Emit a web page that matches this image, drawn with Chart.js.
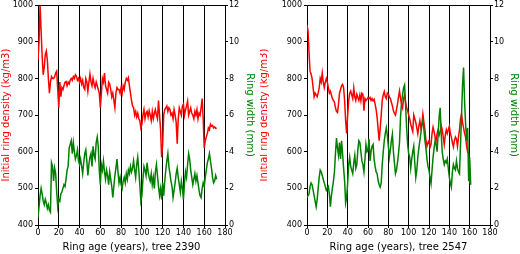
<!DOCTYPE html>
<html>
<head>
<meta charset="utf-8">
<script src="https://cdn.jsdelivr.net/npm/chart.js@4"></script>
<style>
body { margin: 0; background: #fff; }
#wrap { position: relative; width: 520px; height: 254px; }
canvas { position: absolute; top: 0; }
</style>
</head>
<body>
<div id="wrap">
<canvas id="tree2390" width="260" height="254" style="left:0px"></canvas>
<canvas id="tree2547" width="260" height="254" style="left:260px"></canvas>
</div>
<script>
// initial ring density (kg/m3) per ring age, tree 2390
var density2390 = [
  850, 900, 1000, 930, 860, 810, 830, 865, 875, 850,
  800, 760, 790, 805, 800, 800, 805, 815, 820, 770,
  720, 790, 750, 775, 770, 780, 790, 792, 780, 790,
  785, 795, 800, 795, 805, 800, 810, 806, 795, 800,
  790, 800, 785, 795, 775, 770, 800, 790, 765, 790,
  812, 790, 780, 800, 785, 775, 790, 780, 770, 760,
  720, 760, 800, 790, 815, 780, 770, 760, 790, 785,
  770, 750, 760, 740, 720, 760, 775, 770, 770, 760,
  775, 760, 780, 770, 790, 800, 795, 802, 780, 760,
  740, 725, 720, 700, 710, 695, 705, 690, 685, 665,
  675, 700, 715, 690, 705, 710, 695, 712, 700, 685,
  710, 690, 705, 715, 700, 690, 740, 700, 660, 585,
  620, 700, 715, 720, 725, 710, 720, 715, 700, 705,
  690, 715, 700, 680, 622, 690, 720, 710, 700, 725,
  730, 700, 715, 725, 738, 700, 710, 720, 705, 700,
  690, 710, 700, 715, 690, 705, 700, 720, 745, 690,
  610, 630, 640, 650, 665, 660, 675, 670, 672, 665,
  668, 664, 665
];
// ring width (mm), tree 2390
var width2390 = [
  0.4, 1.0, 1.6, 2.0, 1.7, 1.3, 1.1, 1.4, 1.2, 0.9,
  1.1, 0.8, 0.7, 3.4, 3.2, 2.4, 3.1, 2.8, 1.8, 1.0,
  1.4, 1.3, 1.7, 1.8, 2.0, 2.2, 2.1, 2.5, 3.0, 3.2,
  4.2, 4.4, 4.6, 3.9, 4.5, 4.0, 3.6, 3.8, 4.1, 3.5,
  3.3, 3.6, 3.2, 2.8, 3.4, 3.9, 4.1, 3.5, 2.7, 3.3,
  3.7, 3.9, 3.2, 4.3, 3.8, 3.6, 4.5, 4.8, 4.3, 3.0,
  2.2, 3.3, 3.0, 3.5, 2.9, 2.5, 3.0, 2.7, 2.2, 2.9,
  2.5, 2.1, 1.5, 2.1, 2.7, 3.1, 3.6, 2.9, 2.3, 2.6,
  2.2, 2.0, 2.4, 2.6, 2.3, 2.8, 2.5, 3.0, 2.8, 3.2,
  2.9, 3.1, 3.5, 3.0, 2.6, 3.3, 3.7, 3.0, 2.2, 1.3,
  1.6, 2.5, 3.2, 3.0, 2.7, 3.4, 2.9, 2.6, 2.4, 2.8,
  2.2, 2.6, 2.0, 2.9, 3.3, 2.7, 2.1, 1.6, 2.0, 1.4,
  2.3, 1.6, 2.4, 3.0, 3.5, 3.9, 3.2, 2.8, 2.4, 2.1,
  1.5, 1.9, 2.3, 2.8, 3.1, 2.6, 2.2, 1.8, 2.4, 2.0,
  1.4, 2.3, 2.9, 2.6, 3.3, 3.9, 3.6, 3.0, 2.6, 2.2,
  2.5, 2.8, 2.4, 2.7, 2.3, 1.9, 1.6, 1.5, 2.0, 2.3,
  2.1, 2.6, 3.0, 3.4, 3.6, 3.9, 3.5, 3.1, 2.6, 2.3,
  2.4, 2.7, 2.5
];
// initial ring density (kg/m3), tree 2547
var density2547 = [
  946, 930, 870, 820, 812, 800, 775, 750, 760, 755,
  750, 760, 775, 800, 790, 815, 790, 775, 790, 800,
  790, 775, 760, 765, 755, 745, 740, 735, 720, 710,
  707, 730, 760, 770, 780, 784, 775, 740, 685, 650,
  700, 740, 760, 766, 755, 745, 774, 750, 740, 757,
  748, 740, 755, 739, 760, 757, 712, 745, 740, 743,
  748, 745, 748, 740, 745, 739, 743, 730, 715, 693,
  660, 630, 665, 700, 740, 755, 764, 750, 745, 760,
  757, 750, 745, 735, 725, 712, 705, 700, 715, 730,
  750, 766, 745, 730, 720, 745, 755, 735, 720, 712,
  700, 690, 675, 665, 655, 700, 690, 680, 665, 649,
  670, 685, 665, 675, 703, 680, 660, 630, 615, 625,
  630, 612, 620, 650, 667, 655, 640, 630, 650, 660,
  645, 655, 671, 660, 640, 620, 645, 660, 650, 660,
  670, 650, 640, 625, 613, 630, 640, 635, 615, 640,
  660, 690, 703, 680, 665, 650, 640, 615, 600, 595,
  513
];
// ring width (mm), tree 2547
var width2547 = [
  1.5, 1.6, 1.7, 2.1, 2.3, 2.2, 1.9, 1.6, 1.3, 1.0,
  1.4, 2.0, 2.6, 3.0, 2.9, 2.7, 2.5, 2.3, 2.1, 1.9,
  2.0, 2.1, 1.7, 1.0, 1.6, 2.0, 2.4, 2.9, 3.9, 4.75,
  4.2, 3.8, 4.5, 3.6, 4.6, 3.9, 3.1, 2.4, 1.2, 1.5,
  2.3, 3.3, 3.7, 3.2, 3.0, 2.8, 3.4, 3.8, 3.1, 3.3,
  4.1, 4.6, 4.5, 4.0, 3.5, 3.3, 2.9, 3.6, 4.4, 4.0,
  4.1, 4.7, 3.5, 4.0, 4.3, 4.4, 3.6, 3.2, 2.9, 2.8,
  2.4, 2.2, 2.07, 2.3, 3.3, 4.0, 4.6, 5.0, 5.3, 4.9,
  4.3, 3.7, 4.1, 4.6, 4.95, 4.0, 3.4, 2.8, 3.0, 3.4,
  3.9, 4.5, 5.9, 6.7, 7.1, 7.5, 7.65, 6.5, 5.3, 4.4,
  3.9, 3.7, 3.1, 3.6, 4.0, 4.3, 3.4, 2.6, 3.0, 3.7,
  4.2, 4.6, 5.0, 5.5, 5.7, 5.2, 4.6, 4.2, 3.6, 3.2,
  2.98, 2.6, 2.26, 3.0, 3.7, 4.2, 4.6, 4.4, 4.0, 5.0,
  5.9, 6.4, 5.0, 4.0, 3.6, 3.3, 3.5, 3.4, 3.6, 3.1,
  2.6, 2.3, 2.07, 2.9, 3.3, 3.1, 3.0, 3.5, 3.1, 2.9,
  2.8, 4.4, 6.0, 7.65, 8.6, 6.75, 5.5, 4.6, 5.3, 2.4,
  3.7, 2.2
];

var tickFont = { family: 'DejaVu Sans', size: 8, lineHeight: 0.8 };
var titleFont = { family: 'DejaVu Sans', size: 10 };

// plain numbers, no thousands separator
function plain(v) { return String(v); }

// matplotlib-like top spine
var topSpine = {
  id: 'topSpine',
  afterDraw: function(chart) {
    var a = chart.chartArea, c = chart.ctx;
    c.save();
    c.strokeStyle = '#000';
    c.lineWidth = 1;
    c.beginPath();
    c.moveTo(a.left, Math.round(a.top) + 0.5);
    c.lineTo(a.right, Math.round(a.top) + 0.5);
    c.stroke();
    c.restore();
  }
};

function byAge(arr) {
  return arr.map(function(v, i) { return { x: i, y: v }; });
}

function ringChart(id, tree, density, width, leftW, rightW, leftPad, rightPad) {
  return new Chart(document.getElementById(id), {
    type: 'line',
    data: {
      datasets: [{
        label: 'Ring width (mm)',
        data: byAge(width),
        yAxisID: 'yw',
        borderColor: '#008000',
        borderWidth: 1.5,
        pointRadius: 0
      },
      {
        label: 'Initial ring density (kg/m3)',
        data: byAge(density),
        yAxisID: 'yd',
        borderColor: '#ff0000',
        borderWidth: 1.5,
        pointRadius: 0
      }]
    },
    options: {
      responsive: false,
      animation: false,
      devicePixelRatio: 1,
      layout: { padding: { top: 3 } },
      plugins: { legend: { display: false }, tooltip: { enabled: false } },
      scales: {
        x: {
          type: 'linear', min: 0, max: 180,
          ticks: { stepSize: 20, padding: 2, font: tickFont, color: '#000', maxRotation: 0, callback: plain },
          grid: { color: '#000', tickLength: 3 },
          border: { color: '#000' },
          title: { display: true, text: 'Ring age (years), tree ' + tree, font: titleFont, color: '#000', padding: { top: 0, bottom: 1 } },
          afterFit: function(s) { s.height = 29; }
        },
        yd: {
          position: 'left', min: 400, max: 1000,
          ticks: { stepSize: 100, padding: 2, font: tickFont, color: '#000', callback: plain },
          grid: { drawOnChartArea: false, color: '#000', tickLength: 3 },
          border: { color: '#000' },
          title: { display: true, text: 'Initial ring density (kg/m3)', font: titleFont, color: '#ff0000', padding: { top: leftPad, bottom: 0 } },
          afterFit: function(s) { s.width = leftW; }
        },
        yw: {
          position: 'right', min: 0, max: 12,
          ticks: { stepSize: 2, padding: 1, font: tickFont, color: '#000', callback: plain },
          grid: { drawOnChartArea: false, color: '#000', tickLength: 3 },
          border: { color: '#000' },
          title: { display: true, text: 'Ring width (mm)', font: titleFont, color: '#008000', padding: { top: rightPad, bottom: 0 } },
          afterFit: function(s) { s.width = rightW; }
        }
      }
    },
    plugins: [topSpine]
  });
}

ringChart('tree2390', 2390, density2390, width2390, 38, 35, 0, 4);
ringChart('tree2547', 2547, density2547, width2547, 47, 30, -2, 0);
</script>
</body>
</html>
